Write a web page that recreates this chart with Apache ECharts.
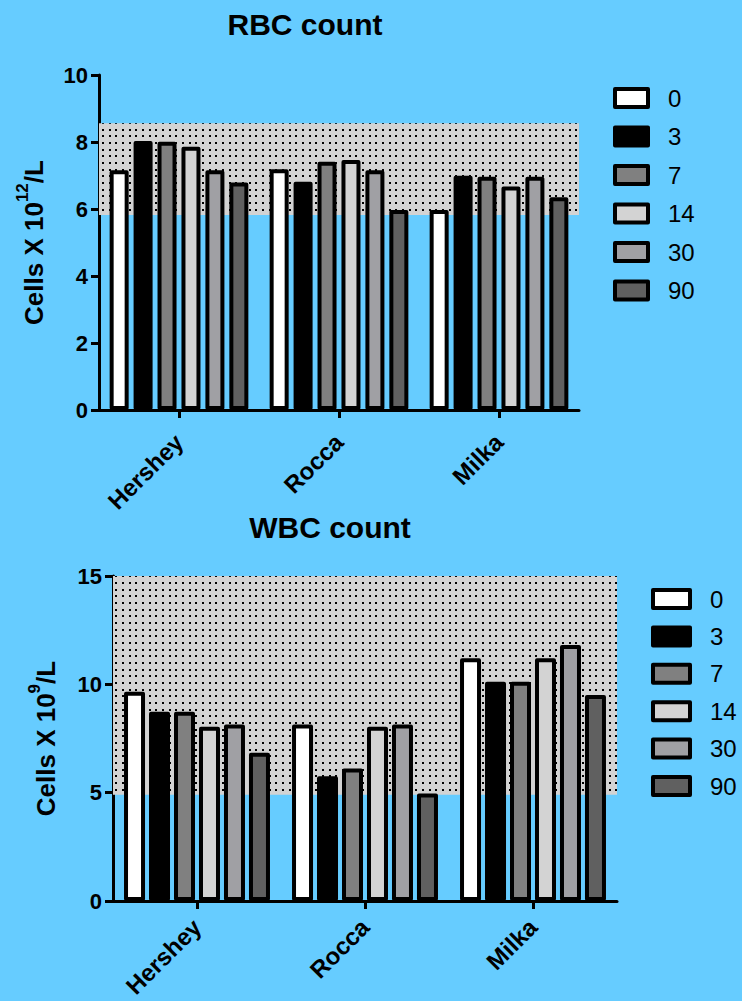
<!DOCTYPE html>
<html>
<head>
<meta charset="utf-8">
<script src="https://cdn.jsdelivr.net/npm/echarts@6/dist/echarts.min.js"></script>
<style>
html,body{margin:0;padding:0;background:#66ccff;}
#chart{width:742px;height:1001px;}
</style>
</head>
<body>
<div id="chart"></div>
<script>
// ---- data ----
const categories = ['Hershey', 'Rocca', 'Milka'];
const days = ['0', '3', '7', '14', '30', '90'];

const rbcDay0  = [7.16, 7.19, 5.97];
const rbcDay3  = [8.03, 6.81, 6.99];
const rbcDay7  = [8.01, 7.41, 6.96];
const rbcDay14 = [7.86, 7.46, 6.67];
const rbcDay30 = [7.16, 7.16, 6.96];
const rbcDay90 = [6.79, 5.97, 6.35];
const rbcNormalRange = [5.82, 8.56];

const wbcDay0  = [9.66, 8.15, 11.2];
const wbcDay3  = [8.73, 5.76, 10.12];
const wbcDay7  = [8.73, 6.12, 10.12];
const wbcDay14 = [8.04, 8.04, 11.2];
const wbcDay30 = [8.15, 8.15, 11.82];
const wbcDay90 = [6.84, 4.96, 9.51];
const wbcNormalRange = [4.9, 15];

const rbcTicks = [0, 2, 4, 6, 8, 10];
const wbcTicks = [0, 5, 10, 15];

const dayColors = ['#ffffff', '#000000', '#808080', '#d3d3d3', '#a0a0a4', '#606060'];

const rbcSeries = [rbcDay0, rbcDay3, rbcDay7, rbcDay14, rbcDay30, rbcDay90];
const wbcSeries = [wbcDay0, wbcDay3, wbcDay7, wbcDay14, wbcDay30, wbcDay90];

// ---- styles ----
const FF = '"Liberation Sans", Arial, Helvetica, sans-serif';

function dotPattern() {
  const c = document.createElement('canvas');
  c.width = 20; c.height = 20;
  const ctx = c.getContext('2d');
  ctx.fillStyle = '#d3d3d3';
  ctx.fillRect(0, 0, 20, 20);
  ctx.fillStyle = '#000000';
  const pos = [2, 9, 15];
  pos.forEach(function (x) {
    pos.forEach(function (y) { ctx.fillRect(x, y, 2, 2); });
  });
  return c;
}
const pattern = dotPattern();

const chart = echarts.init(document.getElementById('chart'), null, { renderer: 'svg' });

function yName(sup) {
  return '{a|Cells X 10}{s|' + sup + '}{a|/L}';
}
const nameStyle = {
  fontFamily: FF, fontWeight: 'bold', fontSize: 26, color: '#000',
  rich: {
    a: { fontFamily: FF, fontWeight: 'bold', fontSize: 26, color: '#000', lineHeight: 40 },
    s: { fontFamily: FF, fontWeight: 'bold', fontSize: 17, color: '#000', lineHeight: 17, verticalAlign: 'top' }
  }
};

function xAxisCfg(gridIndex, margin) {
  return {
    type: 'category', gridIndex: gridIndex, data: categories,
    axisLine: { show: true, lineStyle: { color: '#000', width: 3 } },
    axisTick: { show: true, alignWithLabel: true, length: 8, lineStyle: { color: '#000', width: 3 } },
    axisLabel: {
      rotate: 45, margin: margin, color: '#000', fontFamily: FF, fontWeight: 'bold', fontSize: 24
    },
    splitLine: { show: false }
  };
}
function yAxisCfg(gridIndex, ticks, sup, gap) {
  return {
    type: 'value', gridIndex: gridIndex,
    min: ticks[0], max: ticks[ticks.length - 1], interval: ticks[1] - ticks[0],
    axisLine: { show: true, lineStyle: { color: '#000', width: 3 } },
    axisTick: { show: true, length: 8, lineStyle: { color: '#000', width: 3 } },
    axisLabel: { margin: 11, color: '#000', fontFamily: FF, fontWeight: 'bold', fontSize: 22 },
    splitLine: { show: false },
    name: yName(sup), nameLocation: 'middle', nameRotate: 90, nameGap: gap,
    nameTextStyle: nameStyle
  };
}

const series = [];
function addSeries(gridIndex, values, barWidth, barGap, range) {
  values.forEach(function (vals, i) {
    const s = {
      type: 'bar', name: days[i], xAxisIndex: gridIndex, yAxisIndex: gridIndex,
      data: vals, barWidth: barWidth, barGap: barGap,
      itemStyle: { color: dayColors[i], borderColor: '#000', borderWidth: 4, borderJoin: 'round' },
      emphasis: { disabled: true },
      silent: true
    };
    if (i === 0) {
      s.markArea = {
        silent: true, z: 1,
        itemStyle: { color: { image: pattern, repeat: 'repeat' }, opacity: 1, borderWidth: 0 },
        label: { show: false },
        data: [[{ yAxis: range[0] }, { yAxis: range[1] }]]
      };
    }
    series.push(s);
  });
}
addSeries(0, rbcSeries, 19, '26%', rbcNormalRange);
addSeries(1, wbcSeries, 21, '19%', wbcNormalRange);

function legendCfg(left, top, itemWidth, gap) {
  return {
    data: days, orient: 'vertical', left: left, top: top, padding: 0,
    itemWidth: itemWidth, itemHeight: 18, itemGap: gap, icon: 'rect',
    selectedMode: false,
    itemStyle: { borderWidth: 4, borderColor: '#000' },
    textStyle: { fontFamily: FF, fontSize: 24, color: '#000', padding: [0, 0, 0, 15] }
  };
}

chart.setOption({
  backgroundColor: '#66ccff',
  animation: false,
  grid: [
    { left: 99, right: 163, top: 75, bottom: 591, containLabel: false, outerBoundsMode: 'none' },
    { left: 113, right: 125, top: 576, bottom: 100, containLabel: false, outerBoundsMode: 'none' }
  ],
  xAxis: [xAxisCfg(0, 28), xAxisCfg(1, 22)],
  yAxis: [yAxisCfg(0, rbcTicks, '12', 45), yAxisCfg(1, wbcTicks, '9', 47)],
  legend: [legendCfg(613, 86, 33, 14.5), legendCfg(651, 587, 37, 13.4)],
  graphic: [
    { type: 'text', x: 305, y: 24, style: { text: 'RBC count', font: 'bold 30px ' + FF, fill: '#000', textAlign: 'center', textVerticalAlign: 'middle', align: 'center', verticalAlign: 'middle' } },
    { type: 'text', x: 330, y: 527, style: { text: 'WBC count', font: 'bold 30px ' + FF, fill: '#000', textAlign: 'center', textVerticalAlign: 'middle', align: 'center', verticalAlign: 'middle' } }
  ],
  series: series
});
</script>
</body>
</html>
